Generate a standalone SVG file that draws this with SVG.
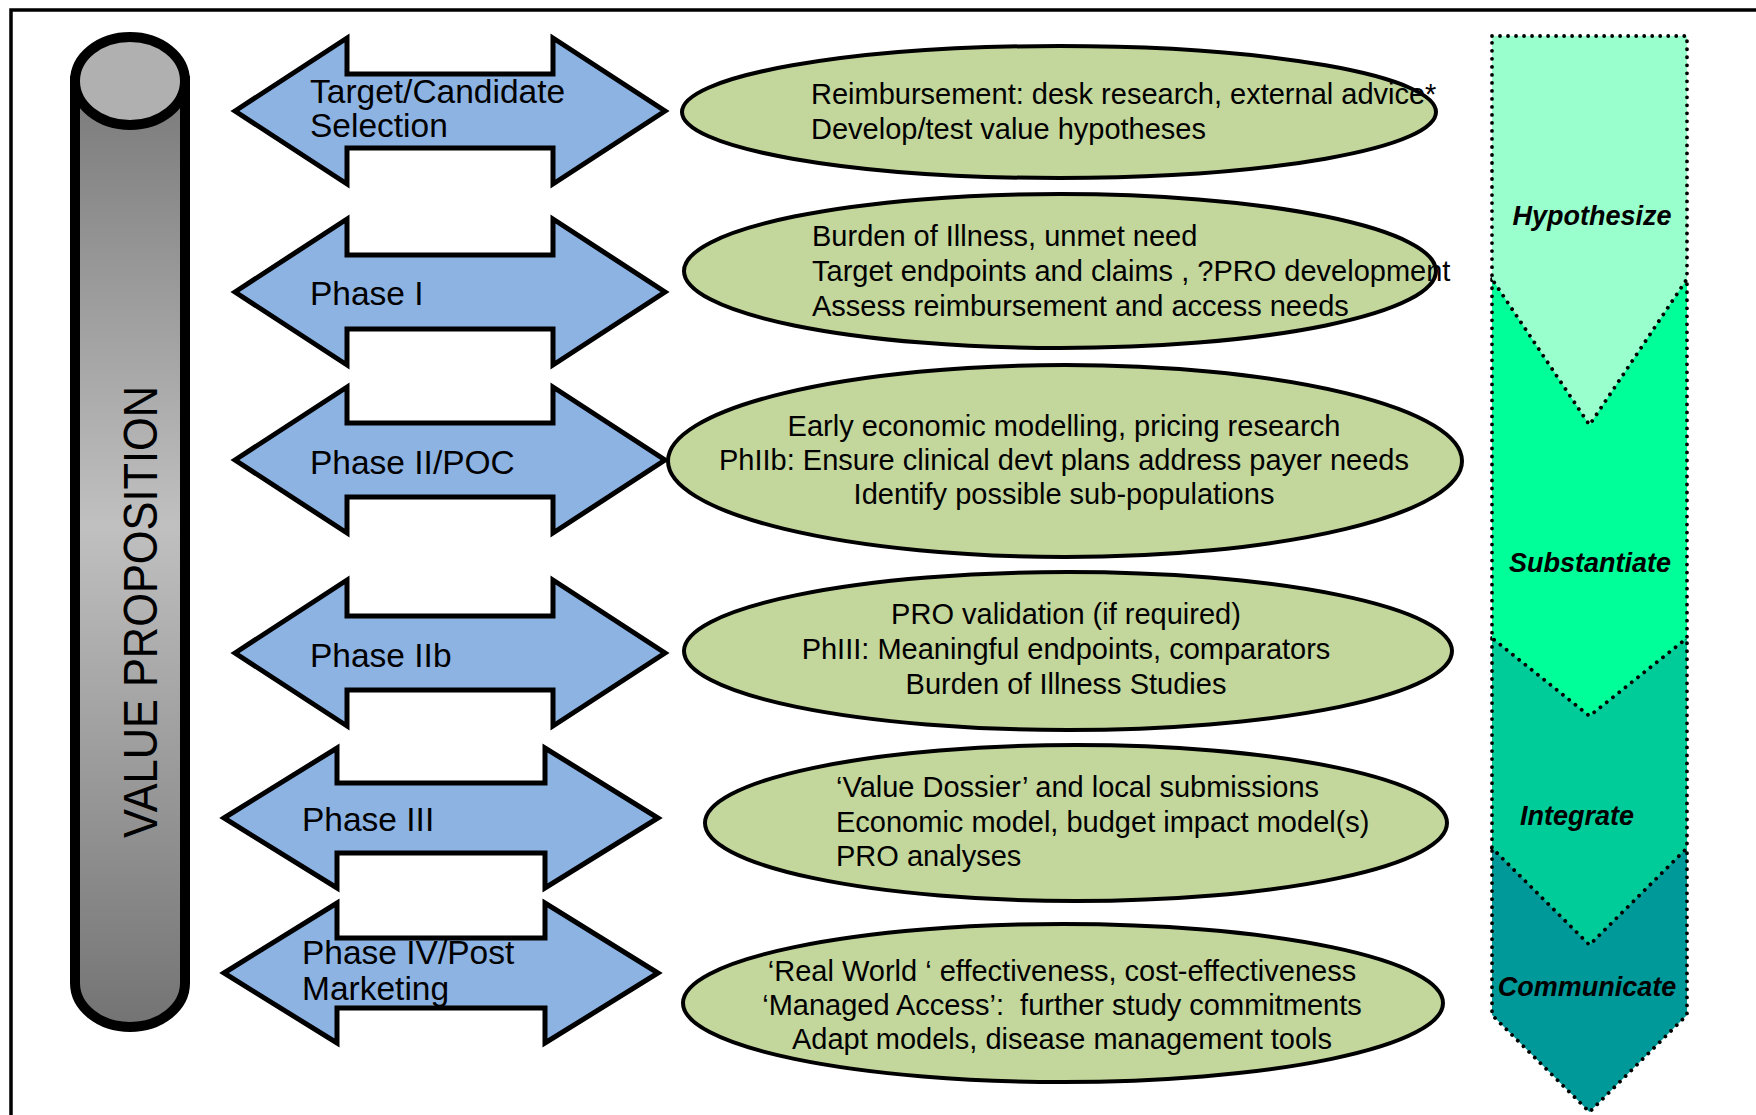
<svg xmlns="http://www.w3.org/2000/svg" width="1756" height="1115" viewBox="0 0 1756 1115">
<defs>
<linearGradient id="cyl" gradientUnits="userSpaceOnUse" x1="0" y1="81" x2="0" y2="1027">
<stop offset="0" stop-color="#7a7a7a"/>
<stop offset="0.47" stop-color="#c0c0c0"/>
<stop offset="1" stop-color="#737373"/>
</linearGradient>
<style>
.arrow{fill:#8db3e2;stroke:#000;stroke-width:5;stroke-linejoin:miter}
.ell{fill:#c3d69b;stroke:#000;stroke-width:4}
.at{font-family:"Liberation Sans",Arial,sans-serif;font-size:33.5px;fill:#000}
.et{font-family:"Liberation Sans",Arial,sans-serif;font-size:29px;fill:#000;white-space:pre}
.c{text-anchor:middle}
.stage{stroke:#000;stroke-width:3.8;stroke-dasharray:0.01 8;stroke-linecap:round;stroke-linejoin:round}
.st{font-family:"Liberation Sans",Arial,sans-serif;font-size:27px;font-weight:bold;font-style:italic;fill:#000}
</style>
</defs>
<rect width="1756" height="1115" fill="#fff"/>
<path d="M11,1120 V10 H1760" fill="none" stroke="#000" stroke-width="3.5"/>

<g id="cylinder">
<path d="M75,81 V983 A55,44 0 0 0 185,983 V81 Z" fill="url(#cyl)" stroke="#000" stroke-width="10"/>
<ellipse cx="130" cy="81" rx="55" ry="44" fill="#b0b0b0" stroke="#000" stroke-width="10"/>
<text transform="translate(157,612) rotate(-90)" text-anchor="middle" font-family="'Liberation Sans',Arial,sans-serif" font-size="48" textLength="452" lengthAdjust="spacingAndGlyphs">VALUE PROPOSITION</text>
</g>

<g id="arrow1">
<path class="arrow" d="M235,111 L347,38 L347,74 L553,74 L553,38 L665,111 L553,184 L553,148 L347,148 L347,184 Z"/>
<text class="at" x="310" y="103">Target/Candidate</text>
<text class="at" x="310" y="137">Selection</text>
</g>
<g id="arrow2">
<path class="arrow" d="M235,292 L347,219 L347,255 L553,255 L553,219 L665,292 L553,365 L553,329 L347,329 L347,365 Z"/>
<text class="at" x="310" y="305">Phase I</text>
</g>
<g id="arrow3">
<path class="arrow" d="M235,460 L347,387 L347,423 L553,423 L553,387 L665,460 L553,533 L553,497 L347,497 L347,533 Z"/>
<text class="at" x="310" y="474">Phase II/POC</text>
</g>
<g id="arrow4">
<path class="arrow" d="M235,653 L347,580 L347,616 L553,616 L553,580 L665,653 L553,726 L553,690 L347,690 L347,726 Z"/>
<text class="at" x="310" y="667">Phase IIb</text>
</g>
<g id="arrow5">
<path class="arrow" d="M224,818 L337,748 L337,783 L545,783 L545,748 L658,818 L545,888 L545,853 L337,853 L337,888 Z"/>
<text class="at" x="302" y="831">Phase III</text>
</g>
<g id="arrow6">
<path class="arrow" d="M224,973 L337,903 L337,938 L545,938 L545,903 L658,973 L545,1043 L545,1008 L337,1008 L337,1043 Z"/>
<text class="at" x="302" y="964">Phase IV/Post</text>
<text class="at" x="302" y="1000">Marketing</text>
</g>

<g id="ellipse1">
<ellipse class="ell" cx="1059" cy="112" rx="377" ry="66"/>
<text class="et" x="811" y="104">Reimbursement: desk research, external advice*</text>
<text class="et" x="811" y="139">Develop/test value hypotheses</text>
</g>
<g id="ellipse2">
<ellipse class="ell" cx="1060" cy="271" rx="376" ry="77"/>
<text class="et" x="812" y="246">Burden of Illness, unmet need</text>
<text class="et" x="812" y="281">Target endpoints and claims , ?PRO development</text>
<text class="et" x="812" y="316">Assess reimbursement and access needs</text>
</g>
<g id="ellipse3">
<ellipse class="ell" cx="1065" cy="461" rx="397" ry="96"/>
<text class="et c" x="1064" y="436">Early economic modelling, pricing research</text>
<text class="et c" x="1064" y="470">PhIIb: Ensure clinical devt plans address payer needs</text>
<text class="et c" x="1064" y="504">Identify possible sub-populations</text>
</g>
<g id="ellipse4">
<ellipse class="ell" cx="1068" cy="651" rx="384" ry="79"/>
<text class="et c" x="1066" y="624">PRO validation (if required)</text>
<text class="et c" x="1066" y="659">PhIII: Meaningful endpoints, comparators</text>
<text class="et c" x="1066" y="694">Burden of Illness Studies</text>
</g>
<g id="ellipse5">
<ellipse class="ell" cx="1076" cy="823" rx="371" ry="78"/>
<text class="et" x="836" y="797">‘Value Dossier’ and local submissions</text>
<text class="et" x="836" y="832">Economic model, budget impact model(s)</text>
<text class="et" x="836" y="866">PRO analyses</text>
</g>
<g id="ellipse6">
<ellipse class="ell" cx="1063" cy="1003" rx="380" ry="79"/>
<text class="et c" x="1062" y="981">‘Real World ‘ effectiveness, cost-effectiveness</text>
<text class="et c" x="1062" y="1015">‘Managed Access’:  further study commitments</text>
<text class="et c" x="1062" y="1049">Adapt models, disease management tools</text>
</g>

<g id="stage-communicate">
<path class="stage" fill="#009999" d="M1492,848 H1687 V1015 L1589.5,1112 L1492,1015 Z"/>
<text class="st c" x="1587" y="996">Communicate</text>
</g>
<g id="stage-integrate">
<path class="stage" fill="#00cc99" d="M1492,638 H1687 V848 L1589.5,945 L1492,848 Z"/>
<text class="st c" x="1577" y="825">Integrate</text>
</g>
<g id="stage-substantiate">
<path class="stage" fill="#00ff99" d="M1492,279 H1687 V638 L1589.5,716 L1492,638 Z"/>
<text class="st c" x="1590" y="572">Substantiate</text>
</g>
<g id="stage-hypothesize">
<path class="stage" fill="#99ffcc" d="M1492,36 H1687 V279 L1589.5,425 L1492,279 Z"/>
<text class="st c" x="1592" y="225">Hypothesize</text>
</g>

<g id="connectors"></g>
</svg>
